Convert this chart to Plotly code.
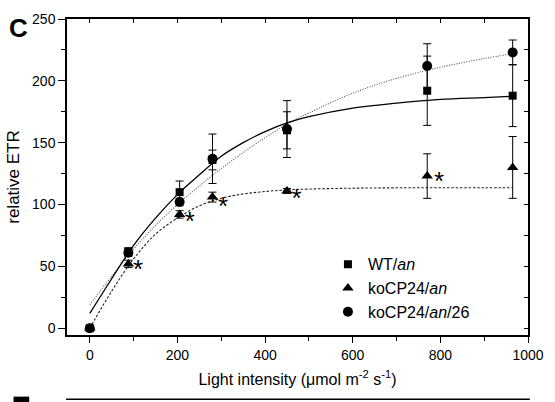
import plotly.graph_objects as go

# ---- data ----
light = [0, 88, 205, 280, 450, 770, 965]
wt_etr = [0, 62, 110, 136, 160, 192, 188]
wt_err = [1, 3, 9, 8, 15, 28, 25]
ko_etr = [0, 52, 92, 106, 111, 123, 130]
ko_err = [1, 3, 3, 4, 2, 18, 25]
ko26_etr = [0, 61, 102, 137, 161, 212, 223]
ko26_err = [1, 3, 3, 20, 23, 18, 10]

fit_x = [0, 50, 100, 150, 200, 250, 300, 350, 400, 450, 500, 600, 700, 800, 900, 965]
fit_wt = [12, 40, 67, 89, 108, 124, 139, 150, 159, 166, 171, 178, 182, 185, 186.5, 187.5]
fit_ko = [0, 30, 56, 76, 89, 99, 105, 108.5, 110.5, 111.8, 112.5, 113.2, 113.5, 113.6, 113.6, 113.6]
fit_ko26 = [19, 42, 64, 83, 100, 115, 129, 142, 154, 165, 174, 190, 202, 211, 218, 222]

star_x = [110, 228, 304, 472, 797]
star_y = [46, 85, 97, 103, 117]

names = ["WT/<i>an</i>", "koCP24/<i>an</i>", "koCP24/<i>an</i>/26"]

FONT = "Liberation Sans, Arial, sans-serif"

fig = go.Figure()

# fitted curves
fig.add_trace(go.Scatter(x=fit_x, y=fit_ko26, mode="lines", line_shape="spline",
                         line=dict(color="#555555", width=1.1, dash="1px,1.5px"), showlegend=False))
fig.add_trace(go.Scatter(x=fit_x, y=fit_wt, mode="lines", line_shape="spline",
                         line=dict(color="black", width=1.3), showlegend=False))
fig.add_trace(go.Scatter(x=fit_x, y=fit_ko, mode="lines", line_shape="spline",
                         line=dict(color="#222222", width=1.1, dash="2.5px,1.8px"), showlegend=False))

def eb(arr):
    return dict(type="data", array=arr, visible=True, color="black", thickness=1, width=4)

fig.add_trace(go.Scatter(x=light, y=wt_etr, mode="markers", name=names[0],
                         marker=dict(symbol="square", size=8, color="black"), error_y=eb(wt_err)))
fig.add_trace(go.Scatter(x=light, y=ko_etr, mode="markers", name=names[1],
                         marker=dict(symbol="triangle-up", size=10, color="black"), error_y=eb(ko_err)))
fig.add_trace(go.Scatter(x=light, y=ko26_etr, mode="markers", name=names[2],
                         marker=dict(symbol="circle", size=10, color="black"), error_y=eb(ko26_err)))

# significance asterisks
fig.add_trace(go.Scatter(x=star_x, y=star_y, mode="text", text=["*"] * len(star_x),
                         textfont=dict(size=26, color="black", family=FONT), showlegend=False))

# mirror axes (top / right, ticks inside)
fig.add_trace(go.Scatter(x=[0], y=[-100], xaxis="x2", yaxis="y2", mode="markers",
                         marker=dict(opacity=0), showlegend=False, hoverinfo="skip"))

fig.update_layout(
    width=555, height=402,
    margin=dict(l=67, r=22, t=11, b=67),
    paper_bgcolor="white", plot_bgcolor="white",
    font=dict(family=FONT, size=14, color="black"),
    showlegend=True,
    legend=dict(x=0.566, y=0.148, xanchor="left", yanchor="middle",
                font=dict(size=16, family=FONT), bgcolor="rgba(0,0,0,0)",
                tracegroupgap=0, itemwidth=30),
    xaxis=dict(range=[-52, 1000], tickvals=[0, 200, 400, 600, 800, 1000],
               ticks="outside", ticklen=6, tickwidth=1, tickcolor="black",
               minor=dict(dtick=100, tick0=0, ticks="outside", ticklen=4, tickcolor="black"),
               showline=True, linecolor="black", linewidth=1.5, showgrid=False, zeroline=False,
               tickfont=dict(size=14),
               title=dict(text="Light intensity (μmol m<sup>-2</sup> s<sup>-1</sup>)",
                          font=dict(size=16), standoff=12)),
    yaxis=dict(range=[-5.5, 250], tickvals=[0, 50, 100, 150, 200, 250],
               ticks="outside", ticklen=7, tickwidth=1, tickcolor="black",
               minor=dict(dtick=25, tick0=0, ticks="outside", ticklen=4, tickcolor="black"),
               showline=True, linecolor="black", linewidth=1.5, showgrid=False, zeroline=False,
               tickfont=dict(size=14),
               title=dict(text="relative ETR", font=dict(size=17), standoff=8)),
    xaxis2=dict(overlaying="x", side="top", range=[-52, 1000], dtick=100, tick0=0,
                ticks="inside", ticklen=4, tickcolor="black", showticklabels=False,
                showline=True, linecolor="black", linewidth=1.5, showgrid=False, zeroline=False),
    yaxis2=dict(overlaying="y", side="right", range=[-5.5, 250], dtick=25, tick0=0,
                ticks="inside", ticklen=4, tickcolor="black", showticklabels=False,
                showline=True, linecolor="black", linewidth=1.5, showgrid=False, zeroline=False),
)

# panel letter
fig.add_annotation(text="<b>C</b>", xref="paper", yref="paper", x=-0.105, y=0.972,
                   xanchor="center", yanchor="middle", showarrow=False,
                   font=dict(size=26, family=FONT, color="black"))

# top edge of next panel (cropped)
fig.add_shape(type="line", xref="paper", yref="paper", x0=-0.002, x1=1.004,
              y0=-0.2035, y1=-0.2035, line=dict(color="black", width=1.5))
fig.add_shape(type="rect", xref="paper", yref="paper", x0=-0.116, x1=-0.082,
              y0=-0.212, y1=-0.195, line=dict(width=0), fillcolor="black")

fig.write_html("out.html")
